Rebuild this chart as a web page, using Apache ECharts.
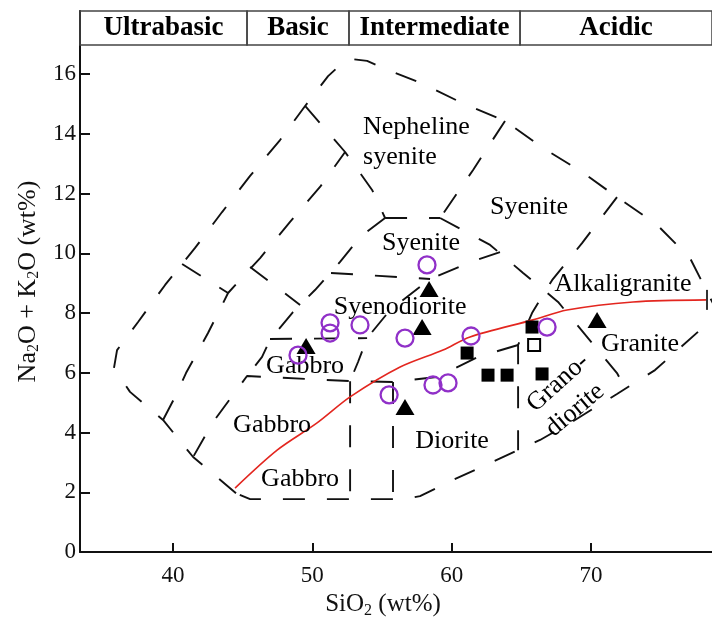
<!DOCTYPE html>
<html><head><meta charset="utf-8">
<script src="https://cdn.jsdelivr.net/npm/echarts@6/dist/echarts.min.js"></script>
<style>html,body{margin:0;padding:0;background:#fff}#c{width:712px;height:617px}</style>
</head><body><div id="c"></div>
<script>
// ---- axis ticks ----
const xTicks = [40, 50, 60, 70];
const yTicks = [0, 2, 4, 6, 8, 10, 12, 14, 16];

// ---- header (SiO2 classes) ----
const headerNames = ['Ultrabasic', 'Basic', 'Intermediate', 'Acidic'];
const headerBreaks = [33.32, 45.31, 52.63, 64.91, 78.69];

// ---- field boundaries (SiO2, Na2O+K2O) ----
const outerBoundary = [[44.52,1.97],[41.44,3.18],[39.28,4.42],[36.91,5.36],[35.76,6.16],[35.98,6.76],[37.49,7.70],[39.43,8.94],[41.58,10.18],[43.52,11.38],[45.53,12.59],[47.68,13.79],[49.48,14.93],[51.13,15.93],[51.99,16.30],[52.85,16.50],[53.93,16.44],[55.43,16.13],[57.80,15.70],[60.75,15.03],[63.83,14.43],[66.56,13.52],[69.36,12.72],[71.87,11.88],[74.75,10.95],[77.11,9.84],[79.0,8.1],[79.0,7.8],[77.83,7.43],[74.60,6.09],[71.87,5.29],[68.86,4.42],[66.35,3.75],[62.90,3.01],[60.10,2.41],[57.73,1.87],[56.65,1.77],[45.53,1.77],[44.52,1.97]];
const ultrabasicDivide = [[39.28,4.42],[40.14,5.19],[40.93,5.99],[42.51,7.33],[43.95,8.67],[46.25,9.84],[48.40,11.05],[50.55,12.22],[52.35,13.39]];
const nephelineLeft = [[49.48,14.93],[52.35,13.39],[54.29,12.12],[55.22,11.18]];
const syeniteTop = [[55.22,11.18],[59.17,11.18]];
const syeniteRight = [[63.83,14.43],[61.54,12.79],[59.17,11.18]];
const graniteLeft = [[59.17,11.18],[62.76,10.28],[65.13,9.34],[67.64,8.37],[69.79,7.16],[71.87,5.99],[72.66,5.32]];
const alkaligraniteLeft = [[71.87,11.88],[69.36,10.34],[67.21,9.10],[65.77,8.00],[64.77,6.93],[64.77,3.41]];
const dioriteTop = [[64.77,6.93],[61.90,6.53],[58.95,5.86],[55.79,5.69],[52.71,5.72],[45.31,5.89],[44.31,5.26],[42.87,4.35],[41.44,3.18]];
const gabbroRight = [[52.71,5.72],[52.71,1.77]];
const dioriteLeft = [[55.79,5.69],[55.79,1.77]];
const syenodioriteLeft = [[55.22,11.18],[53.42,10.54],[51.99,9.71],[50.19,8.77],[48.61,8.03],[46.96,7.10],[46.39,6.53],[45.31,5.89]];
const gabbroTop = [[46.96,7.13],[53.93,7.16]];
const syenodioriteRight = [[63.47,10.04],[61.54,9.74],[58.45,9.14],[55.58,8.10],[53.93,7.16],[53.28,6.36],[52.71,5.72]];
const syenodioriteTop = [[51.34,9.34],[58.45,9.14]];
const ultrabasicInnerA = [[40.65,9.64],[43.95,8.67]];
const ultrabasicInnerB = [[45.53,9.54],[49.12,8.27]];

// ---- alkaline / subalkaline divide ----
const alkalineDivide = [[44.45,2.14],[47.47,3.41],[50.34,4.32],[52.71,5.19],[56.30,6.19],[59.38,6.76],[61.32,7.20],[65.84,7.77],[68.28,8.10],[73.02,8.37],[78.33,8.44]];

// ---- samples ----
const circleSamples = [[58.23,9.61],[51.27,7.67],[51.27,7.33],[53.42,7.60],[48.97,6.59],[56.65,7.16],[61.39,7.23],[66.85,7.53],[58.66,5.59],[59.74,5.66],[55.51,5.26]];
const triangleSamples = [[58.38,8.80],[57.88,7.53],[49.55,6.90],[56.65,4.85],[70.44,7.77]];
const squareSamples = [[61.11,6.66],[62.61,5.92],[63.98,5.92],[66.49,5.96],[65.77,7.53]];
const openSquareSamples = [[65.92,6.93]];

// ---- field names ----
const fieldNames = ['Nepheline\nsyenite','Syenite','Syenite','Syenodiorite','Gabbro','Gabbro','Gabbro','Diorite','Alkaligranite','Granite','Grano-','diorite'];
const fieldAt = [[53.64,13.72],[65.56,11.55],[57.80,10.34],[56.30,8.20],[49.48,6.23],[47.11,4.25],[49.12,2.44],[60.03,3.72],[72.30,8.97],[73.52,6.96],[67.64,5.66],[68.86,4.75]];
const fieldRotate = [0,0,0,0,0,0,0,0,0,0,42,40];

const FONT = "'Liberation Serif','Times New Roman',serif";
const boundaryList = [outerBoundary, ultrabasicDivide, nephelineLeft, syeniteTop, syeniteRight, graniteLeft, alkaligraniteLeft, dioriteTop, gabbroRight, dioriteLeft, syenodioriteLeft, gabbroTop, syenodioriteRight, syenodioriteTop, ultrabasicInnerA, ultrabasicInnerB];

const series = boundaryList.map(b => ({
  type: 'line', data: b, symbol: 'none', silent: true, z: 2,
  lineStyle: { color: '#111', width: 1.9, type: [22, 22] }
}));

series.push({
  type: 'line', data: alkalineDivide, symbol: 'none', smooth: 0.3, clip: false, z: 3, silent: true,
  lineStyle: { color: '#e3261f', width: 1.6 },
  markArea: {
    silent: true,
    itemStyle: { color: 'rgba(0,0,0,0)', borderColor: '#444', borderWidth: 1.5 },
    label: { show: true, position: 'inside', fontFamily: FONT, fontWeight: 'bold', fontSize: 27, color: '#000' },
    data: headerNames.map((n, i) => [{ name: n, xAxis: headerBreaks[i], yAxis: 16.97 }, { xAxis: headerBreaks[i + 1], yAxis: 18.11 }])
  }
});
series.push({
  type: 'scatter', data: [alkalineDivide[alkalineDivide.length - 1]], symbol: 'rect', symbolSize: [2, 20], z: 4, silent: true,
  itemStyle: { color: '#333', opacity: 1 }
});
series.push({
  type: 'scatter', z: 5, silent: true,
  data: fieldNames.map((n, i) => ({ name: n, value: fieldAt[i],
    label: { rotate: fieldRotate[i], align: i === 0 ? 'left' : 'center' } })),
  symbolSize: 0,
  itemStyle: { opacity: 1 },
  label: { show: true, position: 'inside', formatter: p => p.name, fontFamily: FONT, fontSize: 26, color: '#000', opacity: 1, lineHeight: 30 }
});
series.push({ type: 'scatter', data: squareSamples, symbol: 'rect', symbolSize: 13, z: 6, itemStyle: { color: '#000', opacity: 1 } });
series.push({ type: 'scatter', data: openSquareSamples, symbol: 'rect', symbolSize: 12, z: 6, itemStyle: { color: '#fff', borderColor: '#000', borderWidth: 2, opacity: 1 } });
series.push({ type: 'scatter', data: triangleSamples, symbol: 'triangle', symbolSize: [19, 16], z: 7, itemStyle: { color: '#000', opacity: 1 } });
series.push({ type: 'scatter', data: circleSamples, symbol: 'circle', symbolSize: 17, z: 8, itemStyle: { color: 'rgba(255,255,255,0)', borderColor: '#9030c8', borderWidth: 2.3, opacity: 1 } });

const chart = echarts.init(document.getElementById('c'), null, { renderer: 'canvas' });
chart.setOption({
  animation: false,
  backgroundColor: '#fff',
  grid: { left: 80, right: 0, top: 11, bottom: 65, containLabel: false, outerBoundsMode: 'none' },
  xAxis: {
    type: 'value', min: 33.32, max: 78.69,
    axisLine: { show: true, onZero: false, lineStyle: { color: '#111', width: 2 } },
    axisTick: { show: true, inside: true, length: 9, customValues: xTicks, lineStyle: { color: '#111', width: 2 } },
    axisLabel: { customValues: xTicks, fontFamily: FONT, fontSize: 23, color: '#111', margin: 12 },
    splitLine: { show: false },
    name: '{a|SiO}{s|2}{a| (wt%)}', nameLocation: 'middle', nameGap: 36,
    nameTextStyle: { padding: [0, 26, 0, 0], rich: {
      a: { fontFamily: FONT, fontSize: 25, color: '#111', lineHeight: 28 },
      s: { fontFamily: FONT, fontSize: 16, color: '#111', lineHeight: 15, verticalAlign: 'bottom' } } }
  },
  yAxis: {
    type: 'value', min: 0, max: 18.11,
    axisLine: { show: true, lineStyle: { color: '#111', width: 2 } },
    axisTick: { show: true, inside: true, length: 10, customValues: yTicks, lineStyle: { color: '#111', width: 2 } },
    axisLabel: { customValues: yTicks, fontFamily: FONT, fontSize: 23, color: '#111', margin: 4 },
    splitLine: { show: false },
    name: '{a|Na}{s|2}{a|O + K}{s|2}{a|O (wt%)}', nameLocation: 'middle', nameGap: 36, nameRotate: 90,
    nameTextStyle: { rich: {
      a: { fontFamily: FONT, fontSize: 26, color: '#111', lineHeight: 28 },
      s: { fontFamily: FONT, fontSize: 16, color: '#111', lineHeight: 15, verticalAlign: 'bottom' } } }
  },
  series: series
});
</script></body></html>
